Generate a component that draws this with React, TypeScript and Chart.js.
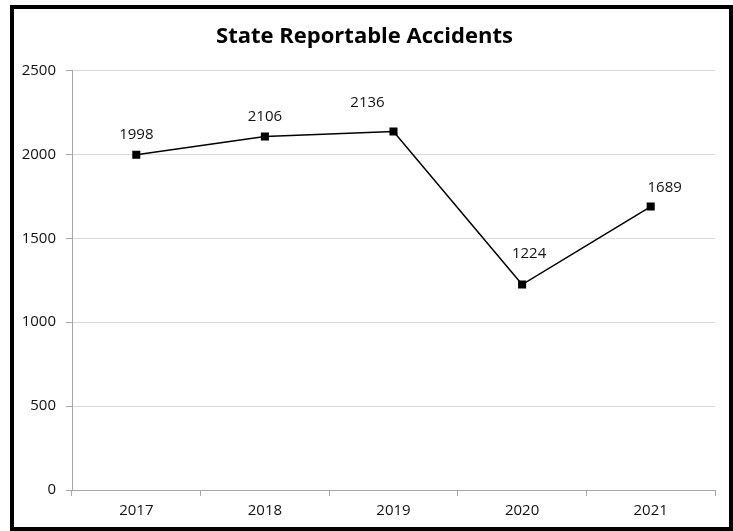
import React, { useEffect, useRef } from "react";
import { Chart, registerables } from "chart.js";

Chart.register(...registerables);

const categories = ["2017", "2018", "2019", "2020", "2021"];
const accidents = [1998, 2106, 2136, 1224, 1689];
const titleText = "State Reportable Accidents";
const yMin = 0;
const yMax = 2500;
const yStep = 500;

// label placement (styling): pixel offsets of each data label from its point
const labelDx = [0, 0, -26, 7, 14];
const labelDy = [-20, -20, -29, -31, -19];

const FONT = "'Open Sans', 'Noto Sans', sans-serif";

const dataLabelPlugin = {
  id: "dataLabels",
  afterDatasetsDraw(chart: any) {
    const ctx = chart.ctx;
    const meta = chart.getDatasetMeta(0);
    const ds = chart.data.datasets[0];
    ctx.save();
    ctx.font = `15px ${FONT}`;
    ctx.fillStyle = "#111111";
    ctx.textAlign = "center";
    ctx.textBaseline = "middle";
    meta.data.forEach((pt: any, i: number) => {
      ctx.fillText(String(ds.data[i]), pt.x + labelDx[i], pt.y + labelDy[i]);
    });
    ctx.restore();
  },
};

export default function App() {
  const ref = useRef<HTMLCanvasElement | null>(null);
  useEffect(() => {
    if (!ref.current) return;
    const chart = new Chart(ref.current, {
      type: "line",
      data: {
        labels: categories,
        datasets: [
          {
            data: accidents,
            borderColor: "#000000",
            borderWidth: 1.5,
            backgroundColor: "#000000",
            pointStyle: "rect",
            pointRadius: 5.7,
            pointBorderWidth: 0,
            tension: 0,
          },
        ],
      },
      options: {
        animation: false,
        responsive: true,
        maintainAspectRatio: false,
        layout: { padding: { left: 0, right: 14, top: 0, bottom: 0 } },
        plugins: {
          legend: { display: false },
          tooltip: { enabled: false },
          title: {
            display: true,
            text: titleText,
            color: "#000000",
            font: { family: FONT, size: 22, weight: "bold" },
            padding: { top: 15, bottom: 20 },
          },
        },
        scales: {
          x: {
            offset: true,
            grid: {
              offset: true,
              drawOnChartArea: false,
              drawTicks: true,
              tickLength: 6,
              color: "#a6a6a6",
            },
            border: { color: "#a6a6a6", width: 1 },
            ticks: {
              color: "#111111",
              font: { family: FONT, size: 15 },
              padding: 6,
            },
            afterFit(scale: any) {
              scale.height = 37;
            },
          },
          y: {
            min: yMin,
            max: yMax,
            grid: {
              color: "#d9d9d9",
              drawTicks: true,
              tickLength: 6,
              tickColor: "#a6a6a6",
            },
            border: { color: "#a6a6a6", width: 1 },
            ticks: {
              stepSize: yStep,
              color: "#111111",
              font: { family: FONT, size: 15 },
              padding: 10,
              callback: (v: any) => String(v),
            },
            afterFit(scale: any) {
              scale.width = 58;
            },
          },
        },
      },
      plugins: [dataLabelPlugin],
    });
    return () => chart.destroy();
  }, []);

  return (
    <div
      style={{
        position: "fixed",
        left: 10,
        top: 5,
        width: 723,
        height: 526,
        border: "4px solid #000",
        boxSizing: "border-box",
        background: "#fff",
      }}
    >
      <div style={{ position: "relative", width: "100%", height: "100%" }}>
        <canvas ref={ref} />
      </div>
    </div>
  );
}
